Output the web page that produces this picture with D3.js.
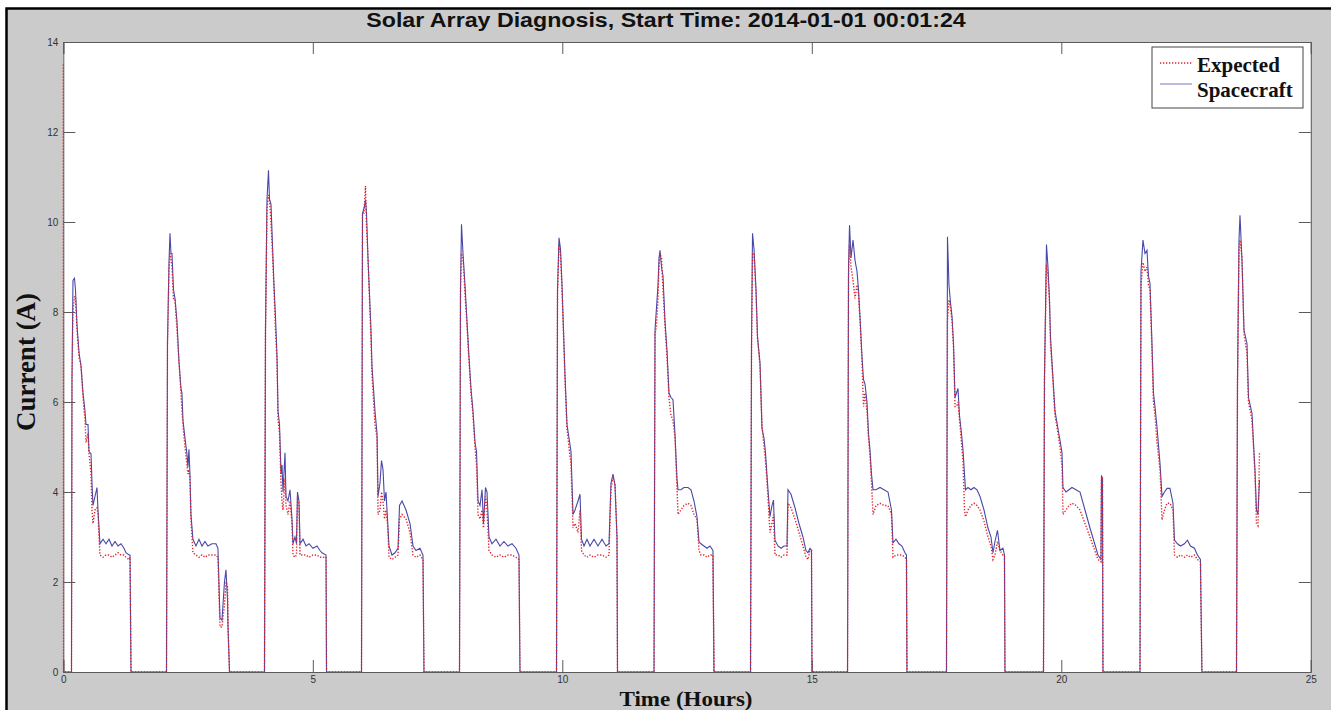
<!DOCTYPE html>
<html>
<head>
<meta charset="utf-8">
<script src="https://cdn.jsdelivr.net/npm/d3@7"></script>
<style>
  body { margin: 0; background: #fff; }
  .tick text { font-family: Arial, "Liberation Sans", sans-serif; font-size: 10px; fill: #333; }
</style>
</head>
<body>
<svg id="fig" width="1331" height="710"></svg>
<script>
// [hours, expected A, spacecraft A], one pass of daylight per line group
var readings = [
  [0.000,13.5,0],[0.004,0,0],[0.164,0,0],[0.174,6.5,6.5],[0.194,8.0,8.7],[0.224,8.35,8.75],[0.244,8.3,8.5],[0.275,7.6,7.7],
  [0.315,7.0,7.1],[0.355,6.8,6.8],[0.395,6.1,6.2],[0.435,5.6,5.8],[0.455,5.1,5.5],[0.495,5.3,5.5],[0.515,4.85,4.9],[0.555,4.4,4.85],
  [0.575,3.6,4.2],[0.595,3.3,3.7],[0.635,3.6,3.9],[0.675,3.65,4.1],[0.695,3.5,3.6],[0.735,2.6,2.85],[0.796,2.55,2.95],[0.856,2.6,2.85],
  [0.916,2.6,2.95],[0.976,2.55,2.8],[1.036,2.6,2.9],[1.096,2.65,2.8],[1.156,2.6,2.85],[1.216,2.6,2.75],[1.256,2.55,2.65],[1.317,2.5,2.6],
  [1.337,2.55,2.6],[1.357,0,0],

  [2.068,0,0],[2.088,7.3,7.3],[2.118,8.9,9.1],[2.138,9.3,9.75],[2.158,9.2,9.3],[2.178,9.0,9.3],[2.208,8.3,8.5],[2.238,8.3,8.3],
  [2.278,7.6,7.8],[2.318,6.9,6.9],[2.358,6.2,6.3],[2.378,5.8,6.2],[2.398,5.5,5.6],[2.438,5.0,5.2],[2.478,4.6,4.85],[2.498,4.4,4.55],
  [2.518,4.5,4.95],[2.538,4.3,4.4],[2.558,3.4,3.5],[2.598,2.65,2.95],[2.659,2.6,2.8],[2.719,2.55,2.95],[2.779,2.6,2.8],[2.839,2.55,2.9],
  [2.899,2.6,2.8],[2.979,2.6,2.85],[3.059,2.6,2.85],[3.099,2.55,2.75],[3.140,1.0,1.2],[3.180,1.0,1.15],[3.230,1.5,2.0],[3.260,2.0,2.27],
  [3.291,1.9,1.6],[3.301,1.0,1.0],[3.331,0,0],

  [4.032,0,0],[4.052,7.6,7.6],[4.082,10.3,10.5],[4.112,10.6,11.15],[4.132,10.5,10.5],[4.162,10.0,10.4],[4.192,9.3,9.5],[4.222,8.5,8.6],
  [4.252,7.6,7.9],[4.283,6.9,7.0],[4.303,5.6,5.8],[4.333,5.3,5.5],[4.363,4.2,4.4],[4.383,3.8,4.6],[4.403,3.6,4.0],[4.443,4.3,4.87],
  [4.463,3.7,3.9],[4.503,3.5,3.8],[4.543,3.8,4.05],[4.583,3.3,3.4],[4.603,2.6,2.85],[4.643,2.55,3.0],[4.673,2.6,2.85],[4.693,3.9,4.0],
  [4.723,3.7,3.8],[4.744,2.6,2.85],[4.804,2.6,2.95],[4.864,2.6,2.8],[4.924,2.55,2.85],[5.004,2.6,2.75],[5.084,2.6,2.8],[5.144,2.55,2.7],
  [5.184,2.55,2.65],[5.265,2.55,2.6],[5.275,0,0],

  [5.976,0,0],[5.996,10.2,10.2],[6.026,10.2,10.3],[6.056,10.8,10.5],[6.076,9.9,10.2],[6.106,9.2,9.2],[6.136,8.3,8.4],[6.166,7.4,7.6],
  [6.186,6.6,6.8],[6.216,6.1,6.3],[6.246,5.5,5.8],[6.287,5.2,5.3],[6.307,3.5,3.9],[6.347,3.6,4.2],[6.377,4.0,4.7],[6.407,3.8,4.5],
  [6.437,3.4,3.8],[6.467,3.6,4.0],[6.497,3.3,3.4],[6.527,2.55,2.8],[6.587,2.5,2.6],[6.647,2.55,2.65],[6.708,2.6,2.75],[6.738,3.4,3.7],
  [6.788,3.5,3.8],[6.868,3.4,3.6],[6.948,3.1,3.3],[7.008,2.6,2.8],[7.068,2.55,2.7],[7.148,2.6,2.75],[7.208,2.5,2.6],[7.228,0,0],

  [7.940,0,0],[7.960,8.5,8.5],[7.980,9.3,9.95],[8.010,9.2,9.3],[8.050,8.4,8.6],[8.090,7.7,7.8],[8.130,6.9,7.0],[8.170,6.2,6.3],
  [8.210,5.7,5.8],[8.251,5.0,5.1],[8.281,4.6,4.9],[8.311,3.5,3.8],[8.351,3.4,3.7],[8.391,3.6,4.05],[8.421,3.2,3.3],[8.461,3.9,4.1],
  [8.491,3.6,4.0],[8.531,2.7,3.0],[8.591,2.6,2.85],[8.671,2.55,2.95],[8.751,2.6,2.8],[8.831,2.55,2.9],[8.911,2.6,2.8],[8.992,2.6,2.85],
  [9.072,2.55,2.75],[9.132,2.5,2.6],[9.152,0,0],

  [9.884,0,0],[9.904,8.4,8.5],[9.934,9.5,9.65],[9.964,9.3,9.4],[9.994,8.5,8.6],[10.024,7.5,7.6],[10.054,6.5,6.6],[10.094,5.4,5.5],
  [10.134,5.0,5.2],[10.174,4.6,4.9],[10.215,3.2,3.5],[10.255,3.3,3.6],[10.315,3.1,3.8],[10.355,3.6,3.95],[10.385,2.7,2.95],[10.435,2.6,2.8],
  [10.495,2.55,2.95],[10.555,2.6,2.8],[10.635,2.55,2.95],[10.715,2.6,2.8],[10.796,2.6,2.95],[10.876,2.55,2.8],[10.936,2.6,2.85],[10.976,4.1,4.2],
  [11.016,4.3,4.4],[11.056,4.2,4.15],[11.096,3.0,3.0],[11.106,0,0],

  [11.838,0,0],[11.858,7.5,7.6],[11.888,7.7,8.1],[11.918,8.3,8.6],[11.938,9.0,9.2],[11.958,9.3,9.37],[11.988,9.2,9.0],[12.018,8.5,8.8],
  [12.058,7.7,7.8],[12.098,7.0,7.15],[12.138,6.1,6.2],[12.178,5.7,6.1],[12.218,5.6,6.05],[12.258,5.2,5.3],[12.298,4.1,4.3],[12.318,3.5,4.05],
  [12.378,3.6,4.05],[12.438,3.7,4.1],[12.519,3.75,4.1],[12.579,3.7,4.05],[12.639,3.5,3.8],[12.699,3.4,3.45],[12.739,2.7,2.9],[12.779,2.6,2.85],
  [12.839,2.6,2.8],[12.899,2.55,2.75],[12.959,2.6,2.8],[13.019,2.6,2.7],[13.040,0,0],

  [13.772,0,0],[13.792,7.2,7.3],[13.812,9.3,9.75],[13.842,9.3,9.4],[13.882,8.4,8.5],[13.912,7.4,7.45],[13.962,6.8,6.87],[14.002,5.5,5.4],
  [14.042,5.0,5.2],[14.072,4.7,4.87],[14.122,3.9,4.05],[14.162,3.1,3.45],[14.202,3.3,3.7],[14.232,3.5,3.82],[14.262,2.6,2.93],[14.322,2.6,2.8],
  [14.383,2.55,2.75],[14.443,2.6,2.8],[14.503,2.6,2.8],[14.523,3.75,4.05],[14.583,3.65,3.95],[14.663,3.4,3.65],[14.743,3.1,3.3],[14.823,2.8,3.0],
  [14.883,2.55,2.7],[14.923,2.5,2.65],[14.963,2.7,2.75],[14.994,2.7,2.7],[15.004,0,0],

  [15.716,0,0],[15.736,8.8,9.0],[15.756,9.5,9.93],[15.786,9.0,9.2],[15.826,8.7,9.6],[15.866,8.3,9.15],[15.906,8.6,8.9],[15.936,8.4,8.5],
  [15.966,7.8,7.9],[16.006,6.9,7.0],[16.036,5.9,6.5],[16.066,6.2,6.4],[16.106,5.8,6.0],[16.136,5.2,5.3],[16.166,4.8,4.93],[16.196,4.2,4.4],
  [16.227,3.5,4.05],[16.287,3.7,4.05],[16.367,3.75,4.1],[16.447,3.7,4.05],[16.527,3.7,4.0],[16.597,3.5,3.6],[16.627,2.55,2.87],[16.687,2.6,2.95],
  [16.747,2.6,2.85],[16.807,2.6,2.8],[16.867,2.55,2.65],[16.897,2.5,2.6],[16.907,0,0],

  [17.699,0,0],[17.719,7.8,9.67],[17.749,8.27,8.6],[17.780,8.1,8.2],[17.810,7.8,7.9],[17.840,7.2,7.3],[17.870,5.9,6.1],[17.900,5.9,6.2],
  [17.930,6.0,6.3],[17.960,5.6,5.7],[18.000,5.1,5.3],[18.030,4.7,4.93],[18.060,3.6,4.4],[18.080,3.45,4.05],[18.130,3.6,4.1],[18.190,3.7,4.05],
  [18.250,3.75,4.1],[18.310,3.7,4.05],[18.371,3.6,3.9],[18.451,3.35,3.6],[18.531,3.0,3.2],[18.591,2.8,3.0],[18.631,2.5,2.65],[18.671,2.6,2.9],
  [18.721,2.9,3.15],[18.771,2.7,2.7],[18.831,2.6,2.75],[18.861,2.6,2.6],[18.871,0,0],

  [19.643,0,0],[19.663,6.5,6.55],[19.703,9.05,9.5],[19.733,8.8,9.0],[19.763,8.2,8.3],[19.783,7.3,7.45],[19.814,6.8,6.87],[19.874,5.7,5.8],
  [19.934,5.3,5.4],[19.974,5.0,5.15],[20.014,4.6,4.87],[20.034,3.5,4.1],[20.094,3.6,4.0],[20.154,3.7,4.05],[20.214,3.75,4.1],[20.294,3.7,4.05],
  [20.375,3.6,4.0],[20.475,3.3,3.6],[20.575,3.0,3.2],[20.655,2.75,2.9],[20.735,2.5,2.6],[20.795,2.45,2.5],[20.805,4.3,4.37],[20.825,4.3,4.3],
  [20.835,0,0],

  [21.577,0,0],[21.597,8.6,8.9],[21.637,9.1,9.6],[21.677,8.9,9.3],[21.717,9.0,9.37],[21.747,8.6,8.8],[21.777,8.5,8.64],[21.817,7.2,7.3],
  [21.847,6.0,6.2],[21.877,5.7,5.9],[21.917,5.1,5.45],[21.978,4.5,4.64],[22.018,3.38,3.9],[22.068,3.6,4.0],[22.118,3.75,4.08],[22.178,3.75,4.08],
  [22.238,3.6,3.75],[22.268,2.6,2.93],[22.328,2.55,2.85],[22.388,2.6,2.8],[22.468,2.55,2.85],[22.528,2.6,2.93],[22.588,2.55,2.8],[22.668,2.6,2.75],
  [22.728,2.5,2.6],[22.788,2.45,2.5],[22.818,0,0],

  [23.511,0,0],[23.531,6.4,6.5],[23.561,9.4,9.6],[23.581,9.6,10.15],[23.621,9.2,9.15],[23.661,7.5,7.6],[23.721,7.1,7.3],[23.751,6.0,6.1],
  [23.821,5.6,5.75],[23.851,5.0,5.1],[23.881,4.4,4.5],[23.911,3.3,3.6],[23.941,3.25,3.5],[23.972,4.87,4.27]
];

var xTicks = [0, 5, 10, 15, 20, 25];
var yTicks = [0, 2, 4, 6, 8, 10, 12, 14];
var seriesNames = ["Expected", "Spacecraft"];
var titleText = "Solar Array Diagnosis, Start Time: 2014-01-01 00:01:24";

var margin = {left: 63.3, top: 42, right: 20.2, bottom: 38};
var W = 1331, H = 710;
var plotW = W - margin.left - margin.right;
var plotH = H - margin.top - margin.bottom;

var svg = d3.select("#fig");

// figure background (matlab grey) with the black frame on left/top
svg.append("rect")
    .attr("x", 6.5).attr("y", 8.5)
    .attr("width", W + 20).attr("height", H + 20)
    .attr("fill", "#cbcbcb")
    .attr("stroke", "#000")
    .attr("stroke-width", 2.5);

var xScale = d3.scaleLinear().domain([0, 25]).range([0, plotW]);
var yScale = d3.scaleLinear().domain([0, 14]).range([plotH, 0]);

var g = svg.append("g")
    .attr("transform", "translate(" + margin.left + "," + margin.top + ")");

g.append("rect")
    .attr("width", plotW).attr("height", plotH)
    .attr("fill", "#fff");

g.append("clipPath").attr("id", "clipP")
    .append("rect").attr("x", -2).attr("width", plotW + 2).attr("height", plotH);

// axes, matlab style: ticks inside on all four sides
var tickLen = 12;
g.append("g")
    .attr("class", "axis")
    .attr("transform", "translate(0," + plotH + ")")
    .call(d3.axisBottom(xScale).tickValues(xTicks).tickSize(-tickLen).tickPadding(4).tickFormat(d3.format("d")));
g.append("g")
    .attr("class", "axis")
    .call(d3.axisTop(xScale).tickValues(xTicks).tickSize(-tickLen).tickFormat(""));
g.append("g")
    .attr("class", "axis")
    .call(d3.axisLeft(yScale).tickValues(yTicks).tickSize(-tickLen).tickPadding(5).tickFormat(d3.format("d")));
g.append("g")
    .attr("class", "axis")
    .attr("transform", "translate(" + plotW + ",0)")
    .call(d3.axisRight(yScale).tickValues(yTicks).tickSize(-tickLen).tickFormat(""));

g.selectAll(".axis .domain").attr("stroke", "#5a5a5a");
g.selectAll(".axis .tick line").attr("stroke", "#5a5a5a");

var lineExp = d3.line()
    .x(function(d){ return xScale(d[0]); })
    .y(function(d){ return yScale(d[1]); });
var lineSc = d3.line()
    .x(function(d){ return xScale(d[0]); })
    .y(function(d){ return yScale(d[2]); });

var marks = g.append("g").attr("clip-path", "url(#clipP)");

marks.append("path")
    .datum(readings)
    .attr("d", lineSc)
    .attr("fill", "none")
    .attr("stroke", "#4848a8")
    .attr("stroke-width", 1.1);

marks.append("path")
    .datum(readings)
    .attr("d", lineExp)
    .attr("fill", "none")
    .attr("stroke", "#e0232b")
    .attr("stroke-width", 1.4)
    .attr("stroke-dasharray", "1.3,1.7");

// title and axis labels (the source image is a little stretched sideways)
svg.append("text")
    .attr("transform", "translate(666,27) scale(1.19,1)")
    .attr("text-anchor", "middle")
    .style("font-family", "Arial, 'Liberation Sans', sans-serif")
    .style("font-weight", "bold")
    .style("font-size", "19.5px")
    .style("fill", "#111")
    .text(titleText);

svg.append("text")
    .attr("transform", "translate(686,706) scale(1.15,1)")
    .attr("text-anchor", "middle")
    .style("font-family", "'Times New Roman', 'Liberation Serif', serif")
    .style("font-weight", "bold")
    .style("font-size", "20px")
    .style("fill", "#111")
    .text("Time (Hours)");

svg.append("text")
    .attr("transform", "translate(35,362) rotate(-90)")
    .attr("text-anchor", "middle")
    .style("font-family", "'Times New Roman', 'Liberation Serif', serif")
    .style("font-weight", "bold")
    .style("font-size", "27px")
    .style("fill", "#111")
    .text("Current (A)");

// legend
var leg = svg.append("g").attr("transform", "translate(1152,47)");
leg.append("rect")
    .attr("width", 151).attr("height", 61)
    .attr("fill", "#fff")
    .attr("stroke", "#444")
    .attr("stroke-width", 1);

var legStyles = [
    {stroke: "#e0232b", dash: "1.3,1.7", width: 1.4, lineY: 16, textY: 25},
    {stroke: "#8c8cc8", dash: null, width: 1.2, lineY: 37, textY: 50}
];
seriesNames.forEach(function(name, i){
    var st = legStyles[i];
    leg.append("line")
        .attr("x1", 8).attr("x2", 40)
        .attr("y1", st.lineY).attr("y2", st.lineY)
        .attr("stroke", st.stroke)
        .attr("stroke-width", st.width)
        .attr("stroke-dasharray", st.dash);
    leg.append("text")
        .attr("x", 45).attr("y", st.textY)
        .style("font-family", "'Times New Roman', 'Liberation Serif', serif")
        .style("font-weight", "bold")
        .style("font-size", "21px")
        .style("fill", "#111")
        .text(name);
});
</script>
</body>
</html>
